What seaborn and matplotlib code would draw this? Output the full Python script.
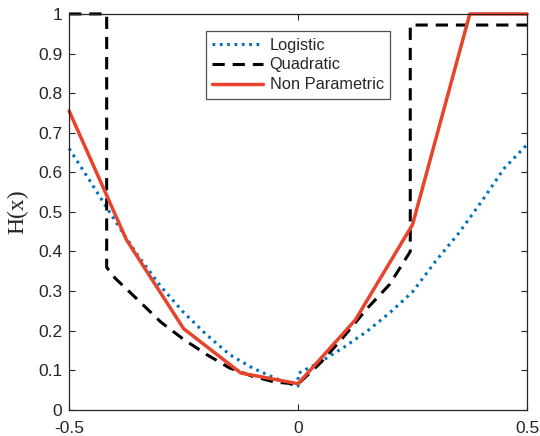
import numpy as np
import pandas as pd
import matplotlib
matplotlib.use("Agg")
import matplotlib.pyplot as plt
import seaborn as sns

# values
logistic_x = [-0.5, -0.45, -0.4, -0.35, -0.3, -0.25, -0.2, -0.15, -0.1, -0.05, -0.01, 0.0,
              0.0, 0.015, 0.05, 0.1, 0.15, 0.2, 0.25, 0.3, 0.35, 0.4, 0.45, 0.5]
logistic_y = [0.66, 0.57, 0.478, 0.39, 0.312, 0.246, 0.19, 0.14, 0.106, 0.08, 0.062, 0.06,
              0.092, 0.101, 0.122, 0.158, 0.198, 0.245, 0.298, 0.375, 0.445, 0.525, 0.61, 0.67]

quad_x = [-0.5, -0.418, -0.418, -0.4, -0.35, -0.3, -0.25, -0.2, -0.15, -0.1, -0.05, 0.0,
          0.05, 0.1, 0.15, 0.2, 0.245, 0.245, 0.5]
quad_y = [1.0, 1.0, 0.36, 0.333, 0.278, 0.222, 0.178, 0.14, 0.106, 0.085, 0.07, 0.065,
          0.12, 0.185, 0.255, 0.317, 0.40, 0.972, 0.972]

nonpar_x = [-0.5, -0.375, -0.25, -0.125, 0.0, 0.125, 0.25, 0.375, 0.5]
nonpar_y = [0.755, 0.43, 0.205, 0.093, 0.066, 0.227, 0.468, 1.0, 1.0]

x_ticks = [-0.5, 0, 0.5]
y_ticks = [0, 0.1, 0.2, 0.3, 0.4, 0.5, 0.6, 0.7, 0.8, 0.9, 1]

sns.set_style("ticks", {"xtick.direction": "in", "ytick.direction": "in",
                        "axes.edgecolor": "#262626"})
plt.rcParams['font.family'] = ['Liberation Sans', 'DejaVu Sans']

fig = plt.figure(figsize=(5.4, 4.36), dpi=100)
ax = fig.add_axes([0.128, 0.06, 0.848, 0.908])

sns.lineplot(x=logistic_x, y=logistic_y, estimator=None, sort=False, ax=ax,
             color='#0072BD', linewidth=2.2, label='Logistic')
ax.lines[-1].set_dashes((0.9, 1.5))
sns.lineplot(x=quad_x, y=quad_y, estimator=None, sort=False, ax=ax,
             color='black', linewidth=2.2, label='Quadratic')
ax.lines[-1].set_dashes((4, 2.6))
sns.lineplot(x=nonpar_x, y=nonpar_y, estimator=None, sort=False, ax=ax,
             color='#E8432C', linewidth=2.5, label='Non Parametric')
for ln in ax.lines:
    ln.set_clip_on(False)

ax.set_xlim(-0.5, 0.5)
ax.set_ylim(0, 1)
ax.set_xticks(x_ticks)
ax.set_xticklabels(['-0.5', '0', '0.5'])
ax.set_yticks(y_ticks)
ax.set_yticklabels(['0', '0.1', '0.2', '0.3', '0.4', '0.5', '0.6', '0.7', '0.8', '0.9', '1'])
ax.tick_params(labelsize=12.5, colors='#262626', length=4, width=0.8,
               top=True, right=True)
ax.tick_params(axis='x', pad=8)
ax.tick_params(axis='y', pad=5)
for s in ax.spines.values():
    s.set_visible(True)
    s.set_linewidth(0.9)
ax.set_ylabel('H(x)', family=['Liberation Serif', 'DejaVu Serif'], fontsize=17)
ax.yaxis.set_label_coords(-0.09, 0.5)

leg = ax.legend(loc='upper center', bbox_to_anchor=(0.5, 0.957), fontsize=11.8,
                handlelength=3.1, frameon=True, fancybox=False, borderpad=0.4,
                labelspacing=0.3, handletextpad=0.4, borderaxespad=0)
leg.get_frame().set_edgecolor('#262626')
leg.get_frame().set_linewidth(0.9)

fig.savefig('out.png', dpi=100)
